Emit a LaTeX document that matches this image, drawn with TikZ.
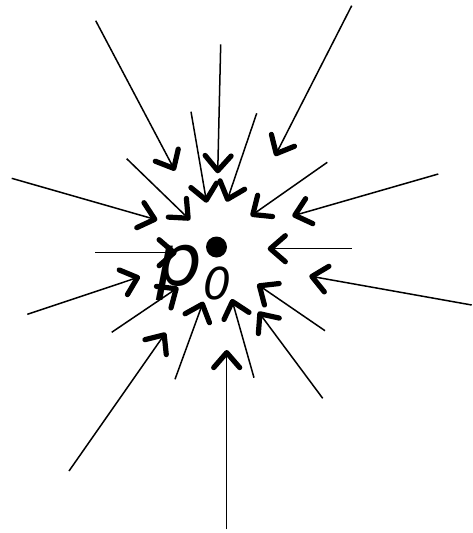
\documentclass[tikz,border=0pt]{standalone}
\usepackage{fontspec}
\setmainfont{DejaVu Sans}
\usetikzlibrary{arrows.meta}

\begin{document}
\begin{tikzpicture}[
  x=1pt, y=-1pt,
  flow/.style={line width=1.5pt, -{Straight Barb[length=15pt, width=26pt, line width=5.2pt, round]}},
  lbl/.style={anchor=base west, inner sep=0pt, font=\itshape},
]
  \useasboundingbox (0,0) rectangle (472,533);

  % the point and its label
  \fill (216.5,247) circle (10.5pt) coordinate (pzero);
  \node[lbl, font=\fontsize{72}{72}\selectfont\itshape] (plabel) at (156,285) {p};
  \node[lbl, font=\fontsize{44}{44}\selectfont\itshape] (sublabel) at (203,299) {0};

  % arrows pointing in towards p0
  \foreach \i/\sx/\sy/\ex/\ey in {
    1/95.7/20.7/175/170.7,
    2/220.7/44.3/217.7/173.3,
    3/351.7/5.7/275/156,
    4/191/111.7/206.7/202.7,
    5/256.7/113.3/226.7/201.7,
    6/126.7/158.7/190/220,
    7/327.3/162.3/250.7/216,
    8/11.7/178.3/157.3/220,
    9/438.3/174/292.3/216,
    10/95/252.7/176.7/252.7,
    11/351.7/248.7/267.7/248.7,
    12/27.3/314.3/140/276.7,
    13/471.7/305/309.3/276,
    14/111.7/332.3/178.3/287.3,
    15/325/330.7/257.3/284.3,
    16/175/379.3/203.3/301.7,
    17/254/377.7/231.7/299,
    18/69/471/165.7/332.7,
    19/322.7/398.3/258.3/311.7,
    20/226.7/529.3/226.7/350}{
    \coordinate (from\i) at (\sx,\sy);
    \coordinate (to\i) at (\ex,\ey);
    \draw[flow] (from\i) -- (to\i);
  }
\end{tikzpicture}
\end{document}
